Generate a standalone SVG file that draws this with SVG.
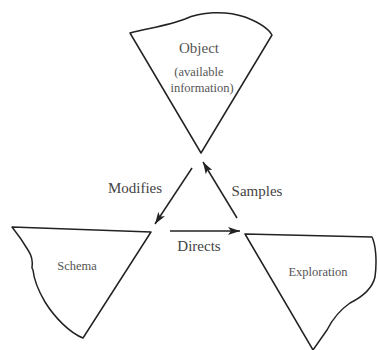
<svg xmlns="http://www.w3.org/2000/svg" width="378" height="350" viewBox="0 0 378 350">
<style>
.shape{fill:#fff;stroke:#222;stroke-width:1.5;stroke-linejoin:round}
.conn{stroke:#222;stroke-width:1.5;fill:none}
.lbl{font-family:"Liberation Serif",serif;font-size:15px;fill:#444;text-anchor:middle}
.in{font-family:"Liberation Serif",serif;fill:#555;text-anchor:middle}
</style>
<defs>
<marker id="ah" viewBox="0 0 12 8" refX="12" refY="4" markerWidth="12" markerHeight="8" markerUnits="userSpaceOnUse" orient="auto">
<path d="M0,0 L12,4 L0,8 L3,4 Z" fill="#222"/>
</marker>
</defs>
<rect width="378" height="350" fill="#fff"/>
<g id="object">
<path class="shape" d="M130,33 C150,28 170,25 185,19 C200,12 225,10 245,17 C258,22 268,28 272,35 L201,153 Z"/>
<text class="in" x="199" y="53" font-size="15">Object</text>
<text class="in" x="199" y="76" font-size="12.5">(available</text>
<text class="in" x="202" y="92" font-size="12.5">information)</text>
</g>
<g id="schema">
<path class="shape" d="M12,227 L151,232 L83,338 C70,333 55,318 45,302 C38,290 34,280 33,270 L32,268 C33,262 32,256 28,250 C22,240 16,232 12,227 Z"/>
<text class="in" x="77" y="270" font-size="12.5">Schema</text>
</g>
<g id="exploration">
<path class="shape" d="M245,234 L372,237 C376,245 377,262 375,277 C372,290 360,298 350,303 C340,310 333,318 327,330 L313,350 Z"/>
<text class="in" x="318" y="276" font-size="12.5">Exploration</text>
</g>
<g id="connectors">
<line class="conn" x1="192" y1="168" x2="155" y2="224" marker-end="url(#ah)"/>
<line class="conn" x1="170" y1="231" x2="240" y2="231" marker-end="url(#ah)"/>
<line class="conn" x1="237" y1="218" x2="203" y2="162" marker-end="url(#ah)"/>
<text class="lbl" x="135" y="193">Modifies</text>
<text class="lbl" x="257" y="196">Samples</text>
<text class="lbl" x="199" y="251">Directs</text>
</g>
</svg>
